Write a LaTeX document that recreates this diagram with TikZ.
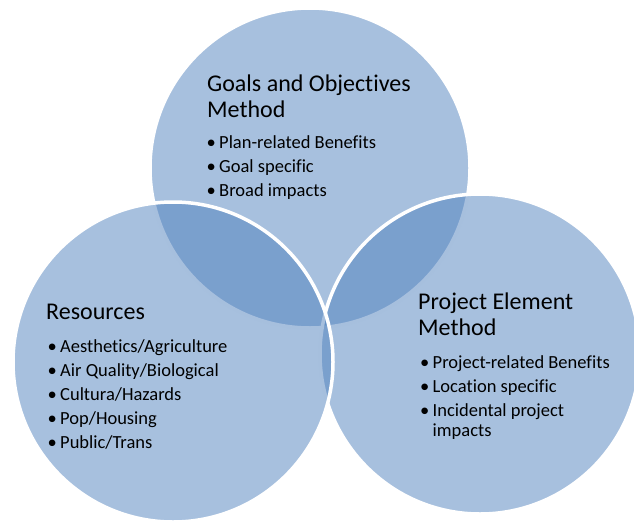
\documentclass[tikz,border=0pt]{standalone}
\usepackage{fontspec}
\setmainfont{Carlito}[Ligatures=NoCommon]
\definecolor{vennblue}{RGB}{79,129,189}
\newcommand{\bl}{\makebox[12.5pt][l]{\textbullet}}

\begin{document}
\begin{tikzpicture}[x=1pt, y=-1pt]
\tikzstyle{set}=[draw=white, line width=3.5pt, fill=vennblue, fill opacity=0.5, shape=circle, minimum size=320pt, inner sep=0pt];
\tikzstyle{head}=[anchor=base west, inner sep=0pt, font=\fontsize{24}{26.5}\selectfont];
\tikzstyle{items}=[anchor=base west, inner sep=0pt, font=\fontsize{18.5}{20}\selectfont];
\useasboundingbox (0,0) rectangle (634,522);
\clip (0,0) rectangle (634,522);
% the three sets
\node [set] (goals) at (310,168) {};
\node [set] (proj) at (480,354) {};
\node [set] (res) at (173,362) {};
% texts
\node [head] (goalshead) at (207,91) {\begin{tabular}[t]{@{}l@{}}Goals and Objectives\\Method\end{tabular}};
\node [items] (goalslist) at (206.5,148) {\begin{tabular}[t]{@{}l@{}l@{}}
\bl & Plan-related Benefits\\[4pt]
\bl & Goal specific\\[4pt]
\bl & Broad impacts
\end{tabular}};
\node [head] (reshead) at (46,319) {\begin{tabular}[t]{@{}l@{}}Resources\end{tabular}};
\node [items] (reslist) at (47.5,352) {\begin{tabular}[t]{@{}l@{}l@{}}
\bl & Aesthetics/Agriculture\\[4pt]
\bl & Air Quality/Biological\\[4pt]
\bl & Cultura/Hazards\\[4pt]
\bl & Pop/Housing\\[4pt]
\bl & Public/Trans
\end{tabular}};
\node [head] (projhead) at (418,309) {\begin{tabular}[t]{@{}l@{}}Project Element\\Method\end{tabular}};
\node [items] (projlist) at (420,368) {\begin{tabular}[t]{@{}l@{}l@{}}
\bl & Project-related Benefits\\[4pt]
\bl & Location specific\\[4pt]
\bl & Incidental project\\
 & impacts
\end{tabular}};
\end{tikzpicture}
\end{document}
